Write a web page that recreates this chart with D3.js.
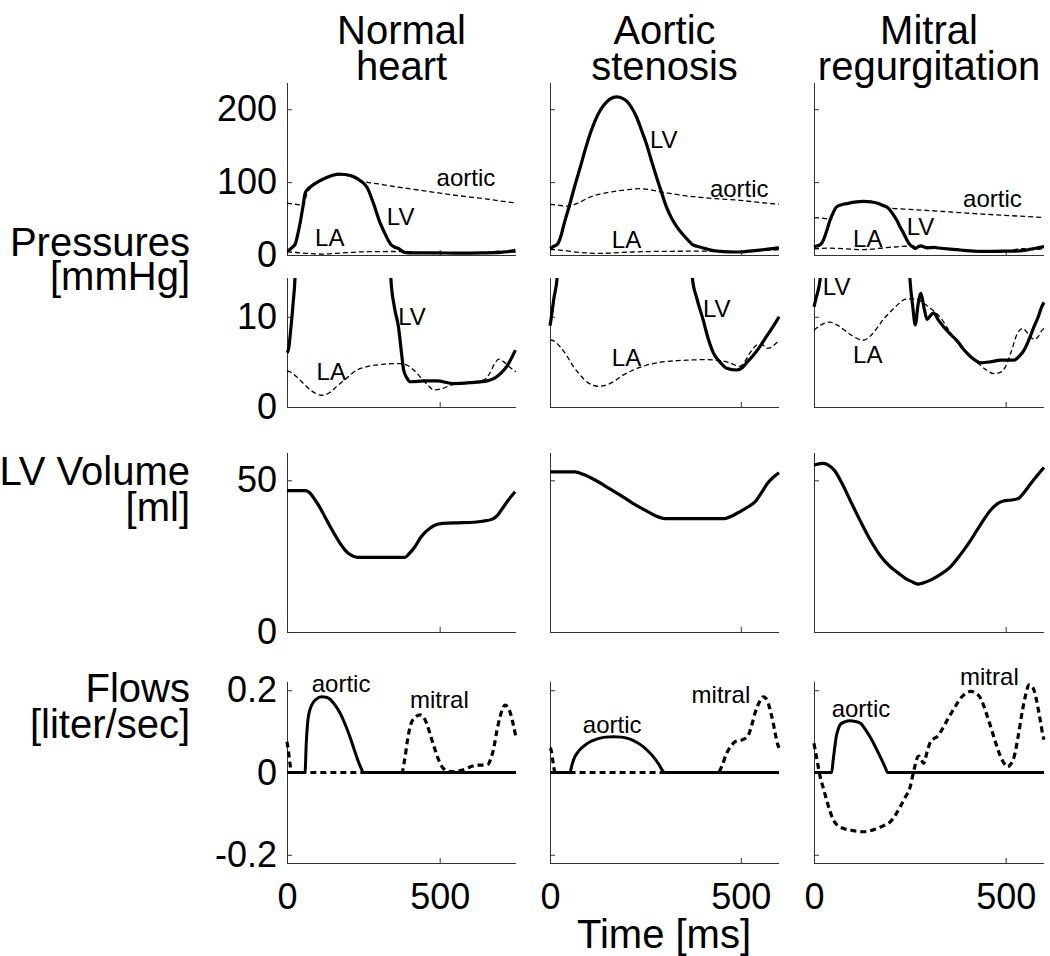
<!DOCTYPE html>
<html lang="en">
<head>
<meta charset="UTF-8">
<title>Pressures, volume and flows</title>
<script src="https://cdn.jsdelivr.net/npm/d3@7"></script>
<style>
  body { margin: 0; background: #fff; }
  svg { font-family: "Liberation Sans", Arial, Helvetica, sans-serif; }
</style>
</head>
<body>
<div id="chart"></div>
<script>
// ---- labels and ticks ----
const columnTitles = [["Normal", "heart"], ["Aortic", "stenosis"], ["Mitral", "regurgitation"]];
const rowLabels = [["Pressures", "[mmHg]"], ["LV Volume", "[ml]"], ["Flows", "[liter/sec]"]];
const timeMax = [750, 600, 600];
const timeTicks = [0, 500];
const pressureTicks = [0, 100, 200];
const lowPressureTicks = [0, 10];
const volumeTicks = [0, 50];
const flowTicks = [-0.2, 0, 0.2];

// ---- pressures [t ms, mmHg] ----
const normalLV = [[0,6],[5,6.4],[12,8.5],[20,11.5],[27,15],[35,28],[43,44],[52,66],[59,84],[67,90],[75,93],[108,102],[140,108],[168,111],[190,110.5],[207,109],[225,106],[240,102],[262,93],[283,71],[305,44],[320,30],[332,20],[340,14.3],[352,11],[365,8.9],[375,6],[382,4.1],[393,3.2],[404,2.8],[450,2.9],[491,2.9],[546,2.6],[600,2.7],[655,2.9],[680,3.2],[699,3.7],[720,4.5],[748,6.3]];
const normalAortic = [[0,71],[20,70],[40,68.8],[55,68],[62,80],[75,91],[108,100.5],[140,107],[168,110],[190,109.5],[207,108],[225,105],[250,101],[300,97.5],[350,94],[400,91],[450,88],[500,85],[550,82],[600,79.5],[650,77],[700,74],[750,71.5]];
const normalLA = [[0,4.0],[10,3.9],[30,3.4],[54,2.6],[80,1.8],[114,1.3],[140,1.6],[163,2.3],[195,3.2],[229,4.1],[265,4.5],[305,4.7],[340,4.8],[371,4.8],[395,4.6],[415,4.1],[440,3.2],[465,2.3],[480,1.9],[505,2.0],[535,2.4],[590,2.7],[645,3.0],[665,3.8],[680,4.8],[694,5.3],[710,5.0],[730,4.4],[750,3.9]];

const stenosisLV = [[0,9],[2,9.5],[10,12],[19,14.5],[28,25],[35,39],[52,70],[65,95],[79,120],[92,144],[105,166],[118,184],[131,198],[145,208],[157,214],[175,217],[190,215],[201,211],[214,202],[227,189],[240,171],[253,152],[266,129],[279,107],[292,86],[305,66],[318,51],[332,39],[350,27],[366,18],[373,14.3],[385,12],[401,9.7],[415,7.5],[428,6.0],[445,5.0],[463,4.3],[489,4.1],[505,4.4],[515,4.9],[530,5.6],[550,6.7],[570,8],[593,9.5],[600,10]];
const stenosisAortic = [[0,69.6],[20,68.5],[48,67],[80,73],[105,79.6],[135,84],[166,87],[200,89.5],[236,91],[262,89.5],[290,86.5],[320,84],[366,80.5],[430,77.5],[497,75],[550,72],[600,69.6]];
const stenosisLA = [[0,7.4],[4,7.4],[26,6.7],[45,5.6],[61,4.5],[80,3.5],[96,2.8],[127,2.3],[145,2.4],[166,2.8],[190,3.5],[218,4.1],[250,4.6],[279,4.9],[320,5.1],[366,5.2],[400,5.25],[436,5.2],[471,4.9],[497,4.5],[510,5.0],[524,6.0],[545,6.9],[557,6.9],[567,6.5],[580,6.6],[593,7.1],[600,7.3]];

const mitralLV = [[0,11.1],[5,12],[17,14.5],[24,20],[33,33],[42,48],[50,58],[59,66],[72,69],[86,70.5],[105,72.5],[129,73.6],[150,72.8],[164,71.4],[180,68],[195,63.7],[206,56],[216,47.7],[225,38],[234,29.6],[242,21],[250,14.3],[258,11],[264,9.1],[272,11.5],[279,12.6],[287,11],[295,9.7],[303,10.1],[312,10.4],[325,9.6],[338,8.9],[355,8.1],[374,7.3],[390,6.4],[408,5.6],[420,5.2],[435,4.9],[460,5.0],[487,5.2],[505,5.2],[522,5.2],[535,5.6],[548,6.3],[560,7.4],[574,8.9],[585,10.0],[593,11],[600,11.6]];
const mitralAortic = [[0,51.4],[30,50],[45,49],[50,57],[59,65],[72,68.5],[86,70],[105,72],[129,73],[150,72.3],[164,71],[180,67.5],[199,64.5],[250,62.5],[300,61],[356,59],[420,56.8],[487,54.6],[550,53],[600,51.4]];
const mitralLA = [[0,8.5],[15,9.0],[42,9.4],[60,9.1],[77,8.6],[100,7.9],[129,7.4],[150,8.0],[181,9.7],[210,11.0],[243,12.0],[265,12.0],[286,11.5],[305,10.9],[330,9.9],[355,8.3],[382,6.7],[405,5.7],[426,4.9],[450,4.1],[469,3.7],[485,3.8],[500,4.5],[515,6.2],[531,8.2],[545,8.7],[557,8.2],[574,7.5],[585,7.8],[593,8.4],[600,8.7]];

// ---- LV volume [t ms, ml] ----
const normalVolume = [[0,46.6],[62,46.6],[75,45.8],[92,43.5],[108,41],[124,38],[140,35],[157,32],[174,29.2],[190,27],[210,25.3],[231,24.6],[386,24.6],[400,25.8],[419,28.1],[440,31.5],[468,34.2],[490,35.4],[509,35.8],[560,36],[599,36.1],[640,36.5],[673,37.2],[690,38.5],[706,40.8],[725,43.5],[747,46.2]];
const stenosisVolume = [[0,52.8],[65,52.8],[90,51.8],[118,50.1],[150,47.7],[183,45.2],[215,42.6],[249,40.2],[275,38.4],[301,37.4],[458,37.4],[478,38.3],[498,39.7],[518,41.2],[537,42.9],[552,45.5],[570,49],[585,51],[600,52.5]];
const mitralVolume = [[0,55],[9,55.3],[20,55.6],[29,55.5],[42,54.6],[55,53],[75,48.5],[94,43.5],[120,36.8],[147,30.3],[172,25.3],[199,21.5],[220,19.4],[238,17.7],[255,16.6],[271,15.8],[285,16.2],[304,17.1],[330,19],[356,21.5],[382,25.5],[409,30.3],[435,35.5],[461,40.2],[480,42.4],[494,43.2],[515,43.5],[533,44],[548,46],[566,49],[585,52],[600,54.2]];

// ---- flows [t ms, liter/sec] ----
const normalAorticFlow = [[0,0],[59,0],[63,0.07],[70,0.136],[81,0.164],[95,0.178],[114,0.184],[128,0.183],[141,0.178],[158,0.163],[174,0.144],[190,0.118],[206,0.087],[220,0.056],[234,0.026],[244,0.008],[250,0],[750,0]];
const normalMitralFlow = [[0,0.075],[5,0.05],[10,0.02],[15,0],[376,0],[385,0.03],[395,0.08],[403,0.111],[418,0.133],[436,0.14],[447,0.135],[457,0.12],[470,0.09],[485,0.055],[498,0.028],[512,0.01],[530,0.003],[545,0.002],[565,0.004],[589,0.01],[605,0.015],[621,0.018],[640,0.018],[659,0.02],[668,0.035],[676,0.055],[687,0.1],[698,0.136],[706,0.155],[714,0.164],[722,0.16],[730,0.148],[740,0.12],[750,0.085]];
const stenosisAorticFlow = [[0,0],[52,0],[58,0.02],[65,0.038],[75,0.052],[87,0.063],[104,0.074],[122,0.081],[145,0.086],[166,0.087],[188,0.086],[210,0.081],[228,0.073],[244,0.063],[258,0.051],[271,0.038],[285,0.02],[297,0.002],[300,0],[600,0]];
const stenosisMitralFlow = [[0,0.06],[3,0.055],[8,0.025],[13,0],[441,0],[450,0.015],[463,0.047],[475,0.065],[485,0.075],[495,0.078],[502,0.079],[512,0.083],[520,0.091],[528,0.113],[537,0.144],[548,0.17],[559,0.184],[566,0.18],[572,0.168],[580,0.14],[585,0.12],[590,0.095],[596,0.07],[600,0.06]];
const mitralAorticFlow = [[0,0],[46,0],[50,0.03],[54,0.06],[58,0.087],[63,0.105],[68,0.116],[80,0.123],[94,0.126],[108,0.124],[121,0.12],[136,0.102],[151,0.079],[164,0.055],[177,0.03],[186,0.012],[192,0],[600,0]];
const mitralMitralFlow = [[0,0.071],[8,0.03],[16,-0.01],[25,-0.04],[33,-0.067],[42,-0.095],[51,-0.116],[63,-0.13],[77,-0.136],[100,-0.141],[125,-0.144],[145,-0.142],[164,-0.136],[182,-0.129],[199,-0.12],[212,-0.104],[225,-0.083],[238,-0.06],[251,-0.035],[258,-0.005],[265,0.022],[269,0.035],[273,0.04],[279,0.033],[286,0.022],[295,0.05],[304,0.075],[312,0.082],[321,0.087],[335,0.106],[348,0.128],[365,0.155],[382,0.18],[395,0.192],[409,0.197],[422,0.193],[435,0.18],[448,0.148],[461,0.111],[474,0.072],[487,0.038],[496,0.022],[505,0.014],[513,0.02],[522,0.038],[533,0.09],[544,0.152],[552,0.188],[561,0.213],[568,0.21],[574,0.2],[580,0.178],[587,0.144],[592,0.118],[596,0.095],[600,0.08]];

// ---- curve annotations [text, t ms, value] ----
const pressureNotes = [
  [["aortic", 490, 94], ["LV", 327, 41], ["LA", 92, 12]],
  [["LV", 262, 147], ["aortic", 419, 80], ["LA", 162, 9.6]],
  [["aortic", 389, 66], ["LV", 242, 27], ["LA", 102, 11]]
];
const lowPressureNotes = [
  [["LV", 364, 9.1], ["LA", 97, 3.0]],
  [["LV", 401, 10.0], ["LA", 162, 4.5]],
  [["LV", 23, 12.4], ["LA", 102, 4.9]]
];
const flowNotes = [
  [["aortic", 81, 0.196], ["mitral", 403, 0.157]],
  [["aortic", 86, 0.096], ["mitral", 371, 0.169]],
  [["aortic", 46, 0.136], ["mitral", 381, 0.213]]
];

const pressures = [
  {lv: normalLV, ao: normalAortic, la: normalLA},
  {lv: stenosisLV, ao: stenosisAortic, la: stenosisLA},
  {lv: mitralLV, ao: mitralAortic, la: mitralLA}
];
const volumes = [normalVolume, stenosisVolume, mitralVolume];
const flows = [
  {ao: normalAorticFlow, mi: normalMitralFlow},
  {ao: stenosisAorticFlow, mi: stenosisMitralFlow},
  {ao: mitralAorticFlow, mi: mitralMitralFlow}
];

// ---- layout ----
const w = 1050, h = 956;
const colX = [[287, 516], [550, 779], [814, 1044]];
const rows = [
  {y: [83, 255], domain: [0, 236], ticks: pressureTicks},
  {y: [278, 407], domain: [0, 14.3], ticks: lowPressureTicks},
  {y: [453, 632], domain: [0, 59], ticks: volumeTicks},
  {y: [682, 863], domain: [-0.22, 0.22], ticks: flowTicks}
];
const axisColor = "#333";
const bigFont = 40, tickFont = 36, noteFont = 24;

const svg = d3.select("#chart").append("svg")
  .attr("width", w).attr("height", h)
  .attr("viewBox", [0, 0, w, h]);

const defs = svg.append("defs");

function drawLine(g, data, x, y, width, dash) {
  const line = d3.line().x(d => x(d[0])).y(d => y(d[1])).curve(d3.curveMonotoneX);
  g.append("path")
    .datum(data)
    .attr("fill", "none")
    .attr("stroke", "#000")
    .attr("stroke-width", width)
    .attr("stroke-linejoin", "round")
    .attr("stroke-dasharray", dash || null)
    .attr("d", line);
}

function drawNotes(g, notes, x, y) {
  g.selectAll(null).data(notes).enter().append("text")
    .attr("x", d => x(d[1]))
    .attr("y", d => y(d[2]))
    .attr("font-size", noteFont)
    .attr("fill", "#000")
    .text(d => d[0]);
}

rows.forEach((row, r) => {
  colX.forEach((cx, c) => {
    const x = d3.scaleLinear().domain([0, timeMax[c]]).range(cx);
    const y = d3.scaleLinear().domain(row.domain).range([row.y[1], row.y[0]]);
    const id = "clip-" + r + "-" + c;
    defs.append("clipPath").attr("id", id).append("rect")
      .attr("x", cx[0] - 2).attr("y", row.y[0])
      .attr("width", cx[1] - cx[0] + 4).attr("height", row.y[1] - row.y[0] + 3);

    const g = svg.append("g");
    // axes, ticks pointing inward
    const yAxis = d3.axisLeft(y).tickValues(row.ticks).tickSize(-5).tickPadding(10)
      .tickFormat(d => String(d));
    const xAxis = d3.axisBottom(x).tickValues(timeTicks).tickSize(-5).tickPadding(20)
      .tickFormat(d => String(d));
    const ya = g.append("g").attr("transform", "translate(" + cx[0] + ",0)").call(yAxis);
    const xa = g.append("g").attr("transform", "translate(0," + row.y[1] + ")").call(xAxis);
    [ya, xa].forEach(a => {
      a.select(".domain").remove();
      a.selectAll(".tick line").attr("stroke", axisColor);
      a.selectAll("text").attr("font-size", tickFont).attr("fill", "#000")
        .attr("font-family", "'Liberation Sans', Arial, sans-serif");
    });
    g.append("line").attr("x1", cx[0] + 0.5).attr("x2", cx[0] + 0.5)
      .attr("y1", row.y[0]).attr("y2", row.y[1]).attr("stroke", axisColor);
    g.append("line").attr("x1", cx[0]).attr("x2", cx[1])
      .attr("y1", row.y[1] + 0.5).attr("y2", row.y[1] + 0.5).attr("stroke", axisColor);
    if (c > 0) ya.selectAll("text").remove();
    if (r < 3) xa.selectAll("text").remove();

    const plot = g.append("g").attr("clip-path", "url(#" + id + ")");
    if (r < 2) {
      const p = pressures[c];
      drawLine(plot, p.ao, x, y, 1.3, "5,3");
      drawLine(plot, p.la, x, y, 1.3, "5,3");
      drawLine(plot, p.lv, x, y, 3.2);
      drawNotes(g, r === 0 ? pressureNotes[c] : lowPressureNotes[c], x, y);
    } else if (r === 2) {
      drawLine(plot, volumes[c], x, y, 3.2);
    } else {
      drawLine(plot, flows[c].ao, x, y, 3);
      drawLine(plot, flows[c].mi, x, y, 3.2, "6,4");
      drawNotes(g, flowNotes[c], x, y);
    }
  });
});

// column titles, two lines each
colX.forEach((cx, c) => {
  const mid = (cx[0] + cx[1]) / 2;
  svg.append("text").attr("x", mid).attr("y", 44)
    .attr("text-anchor", "middle").attr("font-size", bigFont).text(columnTitles[c][0]);
  svg.append("text").attr("x", mid).attr("y", 80)
    .attr("text-anchor", "middle").attr("font-size", bigFont).text(columnTitles[c][1]);
});

// row labels
const rowLabelY = [[256, 290], [485, 521], [702, 738]];
rowLabels.forEach((lab, i) => {
  svg.append("text").attr("x", 190).attr("y", rowLabelY[i][0])
    .attr("text-anchor", "end").attr("font-size", bigFont).text(lab[0]);
  svg.append("text").attr("x", 190).attr("y", rowLabelY[i][1])
    .attr("text-anchor", "end").attr("font-size", bigFont).text(lab[1]);
});

svg.append("text")
  .attr("x", 664).attr("y", 948)
  .attr("text-anchor", "middle")
  .attr("font-size", bigFont)
  .text("Time [ms]");
</script>
</body>
</html>
